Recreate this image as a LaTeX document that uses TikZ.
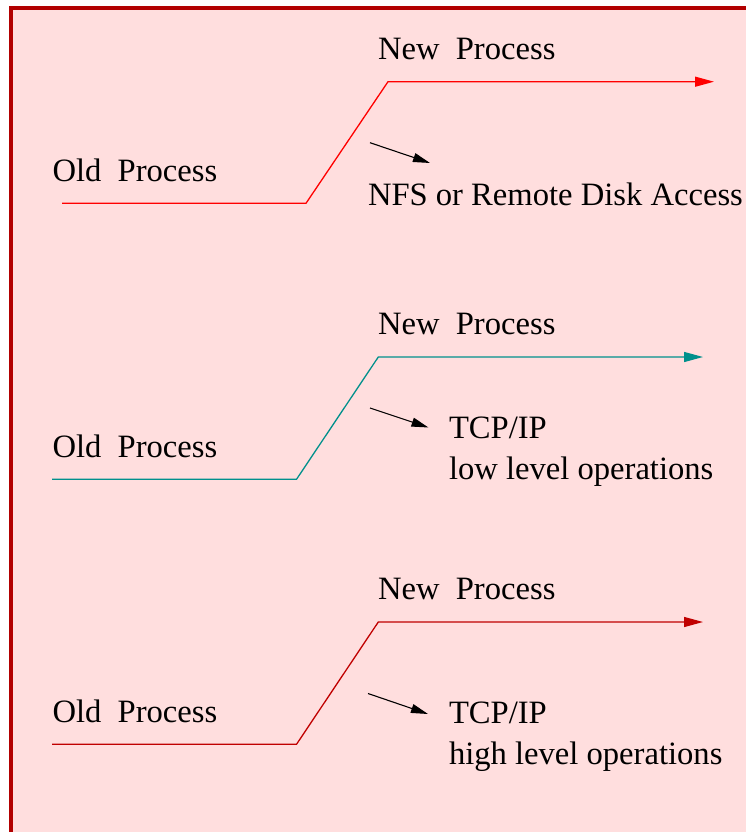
\documentclass[tikz,border=0pt]{standalone}
\usepackage{fontspec}
\setmainfont{Liberation Serif}
\usetikzlibrary{arrows.meta}
\definecolor{bgpink}{RGB}{255,222,222}
\definecolor{framered}{RGB}{178,0,0}
\definecolor{procred}{RGB}{255,0,0}
\definecolor{procteal}{RGB}{0,144,140}
\definecolor{procdark}{RGB}{192,0,0}
\tikzset{
  lbl/.style={anchor=base west, inner sep=0pt, outer sep=0pt, font=\fontsize{32.6}{39}\selectfont},
  proc/.style={line width=1.3pt, -{Triangle[length=19pt,width=10pt]}},
  hint/.style={line width=1.1pt, black, -{Triangle[length=17pt,width=9pt]}}
}
\begin{document}
\begin{tikzpicture}[x=1pt,y=-1pt]
\useasboundingbox (0,0) rectangle (746,832);
\clip (0,0) rectangle (746,832);
\fill[white] (0,0) rectangle (746,832);
\draw[fill=bgpink, draw=framered, line width=4.5pt] (11,8) rectangle (780,870);

% Diagram 1
\node[lbl] (new1) at (378,59.3) {New\ \ Process};
\node[lbl] (old1) at (52.5,181.7) {Old\ \ Process};
\node[lbl] (nfs) at (368,205) {NFS or Remote Disk Access};
\coordinate (a1) at (62,203.3);
\coordinate (b1) at (306,203.3);
\coordinate (c1) at (388,81.7);
\coordinate (d1) at (714,81.7);
\draw[proc, procred] (a1) -- (b1) -- (c1) -- (d1);
\coordinate (h1s) at (370,142.7);
\coordinate (h1e) at (430,163);
\draw[hint] (h1s) -- (h1e);

% Diagram 2
\node[lbl] (new2) at (378,334.5) {New\ \ Process};
\node[lbl] (old2) at (52.5,457.5) {Old\ \ Process};
\node[lbl] (tcp2) at (449,438) {TCP/IP};
\node[lbl] (low2) at (449,479) {low level operations};
\coordinate (a2) at (52,479.3);
\coordinate (b2) at (296.5,479.3);
\coordinate (c2) at (378.3,357);
\coordinate (d2) at (703,357);
\draw[proc, procteal] (a2) -- (b2) -- (c2) -- (d2);
\coordinate (h2s) at (370,408);
\coordinate (h2e) at (428.5,427.5);
\draw[hint] (h2s) -- (h2e);

% Diagram 3
\node[lbl] (new3) at (378,599.5) {New\ \ Process};
\node[lbl] (old3) at (52.5,722.5) {Old\ \ Process};
\node[lbl] (tcp3) at (449,723) {TCP/IP};
\node[lbl] (high3) at (449,764) {high level operations};
\coordinate (a3) at (52,744.3);
\coordinate (b3) at (296.5,744.3);
\coordinate (c3) at (378.3,622);
\coordinate (d3) at (703,622);
\draw[proc, procdark] (a3) -- (b3) -- (c3) -- (d3);
\coordinate (h3s) at (368,693.5);
\coordinate (h3e) at (428,714);
\draw[hint] (h3s) -- (h3e);
\end{tikzpicture}
\end{document}
